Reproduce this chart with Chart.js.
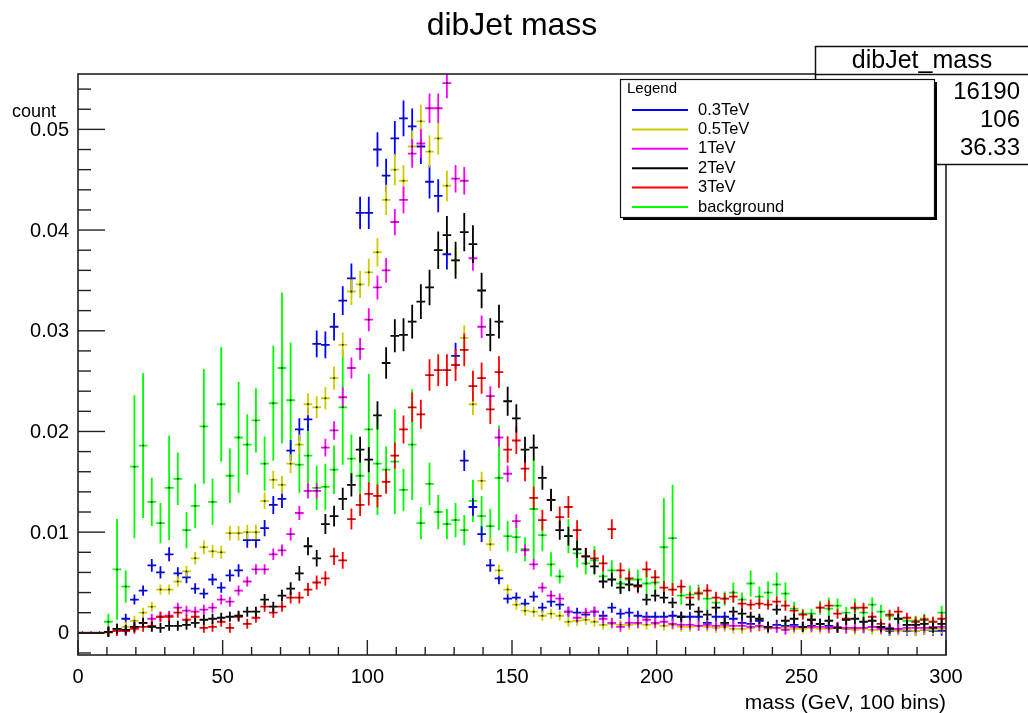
<!DOCTYPE html>
<html>
<head>
<meta charset="utf-8">
<script src="https://cdn.jsdelivr.net/npm/chart.js@4/dist/chart.umd.min.js"></script>
<style>
    html, body { margin: 0; padding: 0; background: #fff; }
    #wrap { width: 1028px; height: 713px; position: relative; }
</style>
</head>
<body>
<div id="wrap"><canvas id="massChart" width="1028" height="713"></canvas></div>
<script>
// histogram binning: 100 bins between 0 and 300 GeV
const xMin = 0, xMax = 300, nBins = 100;
const yMin = -0.0022, yMax = 0.0555;

const seriesNames = ["0.3TeV", "0.5TeV", "1TeV", "2TeV", "3TeV", "background"];
const seriesColors = ["#0000ff", "#cccc00", "#ff00ff", "#000000", "#ff0000", "#00ff00"];

const mass03TeV = [
    0, 0, 0, 0.0001, 0.0004, 0.0014, 0.0033, 0.0042, 0.0067, 0.0060,
    0.0078, 0.0059, 0.0055, 0.0044, 0.0039, 0.0053, 0.0045, 0.0057, 0.0062, 0.0092,
    0.0092, 0.0104, 0.0127, 0.0133, 0.0181, 0.0202, 0.0212, 0.0287, 0.0286, 0.0304,
    0.0330, 0.0352, 0.0417, 0.0417, 0.0480, 0.0454, 0.0491, 0.0511, 0.0503, 0.0483,
    0.0448, 0.0434, 0.0376, 0.0275, 0.0171, 0.0125, 0.0098, 0.0067, 0.0054, 0.0034,
    0.0035, 0.0029, 0.0036, 0.0025, 0.0031, 0.0028, 0.0021, 0.0020, 0.0018, 0.0021,
    0.0017, 0.0025, 0.0019, 0.0020, 0.0017, 0.0016, 0.0016, 0.0016, 0.0017, 0.0016,
    0.0016, 0.0016, 0.0010, 0.0016, 0.0016, 0.0014, 0.0010, 0.0009, 0.0012, 0.0006,
    0.0008, 0.0007, 0.0008, 0.0006, 0.0007, 0.0009, 0.0007, 0.0005, 0.0004, 0.0005,
    0.0005, 0.0006, 0.0006, 0.0002, 0.0004, 0.0002, 0.0002, 0.0003, 0.0002, 0.0002
];
const mass05TeV = [
    0, 0, 0, 0, 0.0003, 0.0006, 0.0012, 0.0020, 0.0026, 0.0043,
    0.0043, 0.0051, 0.0061, 0.0074, 0.0085, 0.0081, 0.0080, 0.0099, 0.0099, 0.0100,
    0.0100, 0.0131, 0.0152, 0.0147, 0.0168, 0.0187, 0.0227, 0.0224, 0.0233, 0.0253,
    0.0286, 0.0339, 0.0346, 0.0358, 0.0378, 0.0430, 0.0460, 0.0449, 0.0483, 0.0508,
    0.0478, 0.0491, 0.0444, 0.0370, 0.0293, 0.0227, 0.0151, 0.0088, 0.0062, 0.0043,
    0.0028, 0.0022, 0.0021, 0.0017, 0.0019, 0.0017, 0.0011, 0.0012, 0.0013, 0.0011,
    0.0008, 0.0009, 0.0008, 0.0008, 0.0009, 0.0008, 0.0009, 0.0007, 0.0008, 0.0006,
    0.0006, 0.0007, 0.0006, 0.0005, 0.0006, 0.0004, 0.0004, 0.0005, 0.0006, 0.0004,
    0.0005, 0.0005, 0.0004, 0.0004, 0.0005, 0.0004, 0.0004, 0.0005, 0.0004, 0.0003,
    0.0004, 0.0003, 0.0003, 0.0003, 0.0002, 0.0003, 0.0002, 0.0003, 0.0003, 0.0004
];
const mass1TeV = [
    0, 0, 0, 0.0001, 0.0002, 0.0002, 0.0006, 0.0010, 0.0014, 0.0016,
    0.0017, 0.0025, 0.0022, 0.0021, 0.0023, 0.0025, 0.0033, 0.0031, 0.0042, 0.0051,
    0.0063, 0.0063, 0.0078, 0.0082, 0.0098, 0.0119, 0.0141, 0.0141, 0.0184, 0.0201,
    0.0234, 0.0263, 0.0282, 0.0311, 0.0343, 0.0360, 0.0408, 0.0430, 0.0476, 0.0486,
    0.0521, 0.0521, 0.0546, 0.0451, 0.0449, 0.0372, 0.0304, 0.0235, 0.0194, 0.0158,
    0.0111, 0.0082, 0.0068, 0.0045, 0.0037, 0.0034, 0.0021, 0.0015, 0.0020, 0.0021,
    0.0014, 0.0010, 0.0006, 0.0010, 0.0010, 0.0013, 0.0010, 0.0011, 0.0009, 0.0008,
    0.0008, 0.0007, 0.0008, 0.0007, 0.0008, 0.0007, 0.0007, 0.0006, 0.0007, 0.0005,
    0.0005, 0.0003, 0.0006, 0.0006, 0.0006, 0.0006, 0.0005, 0.0006, 0.0005, 0.0005,
    0.0005, 0.0006, 0.0004, 0.0005, 0.0004, 0.0005, 0.0005, 0.0005, 0.0006, 0.0006
];
const mass2TeV = [
    0, 0, 0, 0.0001, 0.0004, 0.0003, 0.0006, 0.0010, 0.0006, 0.0005,
    0.0007, 0.0007, 0.0008, 0.0010, 0.0013, 0.0014, 0.0015, 0.0016, 0.0017, 0.0021,
    0.0021, 0.0033, 0.0026, 0.0037, 0.0044, 0.0059, 0.0086, 0.0074, 0.0108, 0.0116,
    0.0133, 0.0147, 0.0182, 0.0172, 0.0216, 0.0268, 0.0295, 0.0296, 0.0309, 0.0329,
    0.0343, 0.0380, 0.0395, 0.0370, 0.0398, 0.0386, 0.0340, 0.0296, 0.0309, 0.0230,
    0.0213, 0.0182, 0.0184, 0.0154, 0.0132, 0.0102, 0.0096, 0.0083, 0.0076, 0.0066,
    0.0051, 0.0053, 0.0045, 0.0048, 0.0047, 0.0033, 0.0037, 0.0035, 0.0030, 0.0016,
    0.0028, 0.0021, 0.0018, 0.0025, 0.0010, 0.0021, 0.0019, 0.0016, 0.0014, 0.0006,
    0.0023, 0.0012, 0.0014, 0.0006, 0.0013, 0.0009, 0.0012, 0.0005, 0.0013, 0.0014,
    0.0011, 0.0012, 0.0006, 0.0004, 0.0014, 0.0008, 0.0008, 0.0009, 0.0005, 0.0009
];
const mass3TeV = [
    0, 0, 0, 0.0001, 0.0002, 0.0002, 0.0004, 0.0006, 0.0007, 0.0016,
    0.0016, 0.0020, 0.0013, 0.0016, 0.0005, 0.0006, 0.0011, 0.0005, 0.0016, 0.0009,
    0.0015, 0.0026, 0.0020, 0.0026, 0.0035, 0.0035, 0.0043, 0.0050, 0.0054, 0.0076,
    0.0072, 0.0113, 0.0127, 0.0138, 0.0136, 0.0150, 0.0176, 0.0202, 0.0224, 0.0217,
    0.0256, 0.0261, 0.0261, 0.0266, 0.0281, 0.0245, 0.0253, 0.0222, 0.0259, 0.0182,
    0.0191, 0.0163, 0.0134, 0.0112, 0.0132, 0.0115, 0.0125, 0.0102, 0.0076, 0.0074,
    0.0069, 0.0103, 0.0062, 0.0054, 0.0046, 0.0063, 0.0055, 0.0045, 0.0043, 0.0046,
    0.0035, 0.0039, 0.0042, 0.0035, 0.0034, 0.0036, 0.0029, 0.0028, 0.0029, 0.0028,
    0.0031, 0.0027, 0.0022, 0.0018, 0.0013, 0.0025, 0.0027, 0.0019, 0.0014, 0.0025,
    0.0025, 0.0016, 0.0009, 0.0018, 0.0021, 0.0015, 0.0011, 0.0013, 0.0011, 0.0014
];
const massBackground = [
    0, 0, 0, 0.0011, 0.0063, 0.0046, 0.0165, 0.0186, 0.0130, 0.0109,
    0.0144, 0.0153, 0.0102, 0.0126, 0.0205, 0.0130, 0.0227, 0.0156, 0.0194, 0.0187,
    0.0211, 0.0168, 0.0228, 0.0263, 0.0231, 0.0167, 0.0176, 0.0144, 0.0145, 0.0162,
    0.0224, 0.0173, 0.0156, 0.0202, 0.0168, 0.0162, 0.0170, 0.0142, 0.0187, 0.0109,
    0.0148, 0.0120, 0.0108, 0.0112, 0.0102, 0.0131, 0.0116, 0.0106, 0.0154, 0.0096,
    0.0095, 0.0083, 0.0123, 0.0097, 0.0068, 0.0056, 0.0096, 0.0079, 0.0069, 0.0072,
    0.0056, 0.0062, 0.0049, 0.0053, 0.0053, 0.0049, 0.0050, 0.0085, 0.0094, 0.0037,
    0.0038, 0.0040, 0.0034, 0.0030, 0.0034, 0.0040, 0.0033, 0.0049, 0.0036, 0.0040,
    0.0048, 0.0039, 0.0024, 0.0019, 0.0019, 0.0025, 0.0024, 0.0027, 0.0020, 0.0024,
    0.0020, 0.0028, 0.0021, 0.0017, 0.0014, 0.0012, 0.0012, 0.0014, 0.0011, 0.0020
];
const backgroundErr = [
    0, 0, 0, 0.0008, 0.0050, 0.0016, 0.0071, 0.0072, 0.0024, 0.0020,
    0.0052, 0.0026, 0.0018, 0.0022, 0.0057, 0.0023, 0.0057, 0.0027, 0.0055, 0.0030,
    0.0032, 0.0027, 0.0057, 0.0075, 0.0057, 0.0028, 0.0032, 0.0022, 0.0023, 0.0024,
    0.0057, 0.0024, 0.0026, 0.0055, 0.0051, 0.0023, 0.0052, 0.0021, 0.0055, 0.0016,
    0.0021, 0.0017, 0.0015, 0.0017, 0.0015, 0.0021, 0.0020, 0.0017, 0.0052, 0.0015,
    0.0016, 0.0012, 0.0050, 0.0016, 0.0012, 0.0007, 0.0017, 0.0014, 0.0011, 0.0014,
    0.0008, 0.0010, 0.0009, 0.0011, 0.0010, 0.0014, 0.0012, 0.0049, 0.0053, 0.0009,
    0.0009, 0.0008, 0.0011, 0.0007, 0.0007, 0.0010, 0.0007, 0.0013, 0.0010, 0.0011,
    0.0012, 0.0011, 0.0007, 0.0005, 0.0005, 0.0007, 0.0011, 0.0007, 0.0006, 0.0010,
    0.0008, 0.0007, 0.0007, 0.0005, 0.0005, 0.0005, 0.0005, 0.0005, 0.0005, 0.0007
];
// unweighted signal samples: error = sqrt(n)/N, i.e. sqrt(value / entries)
const signalEntries = [16190, 19000, 24000, 11000, 10500];

const yTickValues = [0, 0.01, 0.02, 0.03, 0.04, 0.05];
const yTickLabels = ["0", "0.01", "0.02", "0.03", "0.04", "0.05"];
const xTickValues = [0, 50, 100, 150, 200, 250, 300];

const statsTitle = "dibJet_mass";
const statsValues = ["16190", "106", "36.33"];

const allSeries = [mass03TeV, mass05TeV, mass1TeV, mass2TeV, mass3TeV, massBackground];
const drawOrder = [5, 0, 1, 2, 4, 3];
const binWidth = (xMax - xMin) / nBins;
const font = '"Liberation Sans", Arial, Helvetica, sans-serif';

function buildPoints(values, idx) {
    return values.map((v, i) => {
        let e = idx === 5 ? backgroundErr[i] : Math.sqrt(v / signalEntries[idx]);
        return { x: xMin + (i + 0.5) * binWidth, y: v, e: e };
    });
}

const datasets = allSeries.map((values, idx) => ({
    label: seriesNames[idx],
    data: buildPoints(values, idx),
    borderColor: seriesColors[idx],
    backgroundColor: "#000",
    pointRadius: 1,
    pointBorderWidth: 0,
    pointBackgroundColor: "#222",
    showLine: false,
}));

const errorBars = {
    id: "errorBars",
    beforeDatasetsDraw(chart) {
        const ctx = chart.ctx;
        const xs = chart.scales.x, ys = chart.scales.y;
        const a = chart.chartArea;
        ctx.save();
        ctx.beginPath();
        ctx.rect(a.left, a.top, a.right - a.left, a.bottom - a.top);
        ctx.clip();
        ctx.lineWidth = 1.8;
        drawOrder.forEach(idx => {
            const meta = chart.getDatasetMeta(idx);
            ctx.strokeStyle = seriesColors[idx];
            chart.data.datasets[idx].data.forEach((p, i) => {
                const el = meta.data[i];
                const x0 = xs.getPixelForValue(p.x - binWidth / 2);
                const x1 = xs.getPixelForValue(p.x + binWidth / 2);
                let yTop = ys.getPixelForValue(p.y + p.e);
                let yBot = ys.getPixelForValue(p.y - p.e);
                if (el.y - yTop < 5) { yTop = el.y - 5; yBot = el.y + 5; }
                ctx.beginPath();
                ctx.moveTo(x0, el.y);
                ctx.lineTo(x1, el.y);
                if (p.y > 0) {
                    ctx.moveTo(el.x, yTop);
                    ctx.lineTo(el.x, yBot);
                }
                ctx.stroke();
            });
        });
        ctx.restore();
    }
};

const rootFrame = {
    id: "rootFrame",
    afterDatasetsDraw(chart) {
        const ctx = chart.ctx;
        const xs = chart.scales.x, ys = chart.scales.y;
        const a = chart.chartArea;
        ctx.save();
        ctx.strokeStyle = "#222";
        ctx.fillStyle = "#000";
        ctx.lineWidth = 1.6;
        ctx.strokeRect(a.left, a.top, a.right - a.left, a.bottom - a.top);

        // y ticks (inside the frame)
        ctx.lineWidth = 1.4;
        for (let k = -1; k <= 27; k++) {
            const v = k * 0.002;
            const py = ys.getPixelForValue(v);
            if (py < a.top || py > a.bottom) continue;
            const len = k % 5 === 0 ? 27 : 13;
            ctx.beginPath();
            ctx.moveTo(a.left, py);
            ctx.lineTo(a.left + len, py);
            ctx.stroke();
        }
        for (let m = 0; m <= 300; m += 10) {
            const px = xs.getPixelForValue(m);
            const len = m % 50 === 0 ? 15 : 8;
            ctx.beginPath();
            ctx.moveTo(px, a.bottom);
            ctx.lineTo(px, a.bottom - len);
            ctx.stroke();
        }

        ctx.font = "20px " + font;
        ctx.textAlign = "right";
        ctx.textBaseline = "middle";
        yTickValues.forEach((v, i) => {
            ctx.fillText(yTickLabels[i], a.left - 9, ys.getPixelForValue(v) + 1);
        });
        ctx.textAlign = "center";
        xTickValues.forEach(v => {
            ctx.fillText(String(v), xs.getPixelForValue(v), a.bottom + 22);
        });

        ctx.font = "21px " + font;
        ctx.textAlign = "right";
        ctx.fillText("mass (GeV, 100 bins)", a.right, 703);
        ctx.font = "18px " + font;
        ctx.textAlign = "left";
        ctx.fillText("count", 12, 112);

        ctx.font = "32px " + font;
        ctx.textAlign = "center";
        ctx.fillText("dibJet mass", 512, 26);

        // stats box (partly off the canvas, partly under the legend)
        ctx.fillStyle = "#fff";
        ctx.fillRect(815, 46, 240, 118);
        ctx.lineWidth = 1.5;
        ctx.strokeStyle = "#111";
        ctx.strokeRect(815.5, 46.5, 240, 118);
        ctx.beginPath();
        ctx.moveTo(815, 74.5);
        ctx.lineTo(1028, 74.5);
        ctx.stroke();
        ctx.fillStyle = "#000";
        ctx.font = "25px " + font;
        ctx.textAlign = "center";
        ctx.fillText(statsTitle, 922, 61);
        ctx.font = "24px " + font;
        ctx.textAlign = "right";
        statsValues.forEach((t, i) => ctx.fillText(t, 1020, 92 + i * 28));

        // legend box
        ctx.fillStyle = "#000";
        ctx.fillRect(623, 218, 314, 2);
        ctx.fillRect(935, 82, 2, 138);
        ctx.fillStyle = "#fff";
        ctx.fillRect(620, 79, 315, 139);
        ctx.lineWidth = 1.2;
        ctx.strokeStyle = "#111";
        ctx.strokeRect(620.5, 79.5, 314, 138);
        ctx.fillStyle = "#000";
        ctx.font = "15px " + font;
        ctx.textAlign = "left";
        ctx.fillText("Legend", 627, 89);
        ctx.font = "16.5px " + font;
        seriesNames.forEach((name, i) => {
            const ry = 110 + i * 19.4;
            ctx.strokeStyle = seriesColors[i];
            ctx.lineWidth = 2;
            ctx.beginPath();
            ctx.moveTo(632, ry);
            ctx.lineTo(688, ry);
            ctx.stroke();
            ctx.fillText(name, 698, ry);
        });
        ctx.restore();
    }
};

new Chart(document.getElementById("massChart"), {
    type: "scatter",
    data: { datasets: datasets },
    options: {
        responsive: false,
        animation: false,
        layout: { padding: { left: 78, top: 74, right: 82, bottom: 58 } },
        scales: {
            x: { type: "linear", min: xMin, max: xMax, display: false },
            y: { type: "linear", min: yMin, max: yMax, display: false },
        },
        plugins: {
            legend: { display: false },
            title: { display: false },
            tooltip: { enabled: false },
        },
    },
    plugins: [errorBars, rootFrame],
});
</script>
</body>
</html>
